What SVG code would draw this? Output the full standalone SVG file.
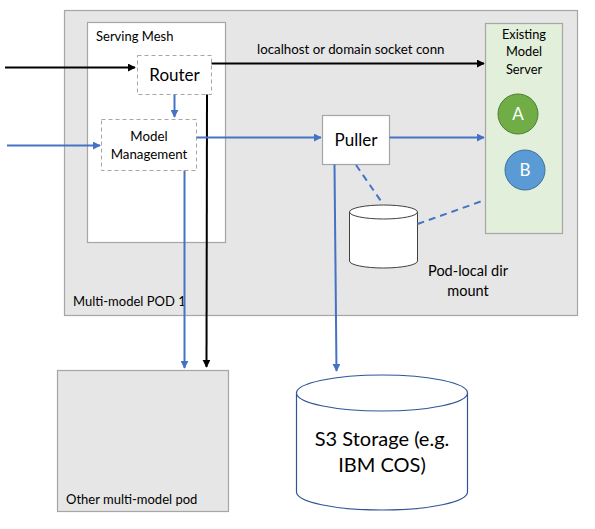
<svg xmlns="http://www.w3.org/2000/svg" width="595" height="529" viewBox="0 0 595 529">
<defs>
<style>
text{font-family:Lato,"Liberation Sans",sans-serif;fill:#000}
.box{fill:#e6e6e6;stroke:#a6a6a6;stroke-width:1.2}
.dash{fill:#fff;stroke:#a6a6a6;stroke-width:1;stroke-dasharray:4 3}
.blue{stroke:#4472c4;stroke-width:2;fill:none}
.blk{stroke:#000;stroke-width:2;fill:none}
.bd{stroke:#4472c4;stroke-width:2;fill:none;stroke-dasharray:7 5}
</style>
<marker id="ab" viewBox="0 0 10 10" refX="9" refY="5" markerWidth="4" markerHeight="4" orient="auto" markerUnits="strokeWidth"><path d="M0,0L10,5L0,10z" fill="#4472c4"/></marker>
<marker id="ak" viewBox="0 0 10 10" refX="9" refY="5" markerWidth="4" markerHeight="4" orient="auto" markerUnits="strokeWidth"><path d="M0,0L10,5L0,10z" fill="#000"/></marker>
</defs>
<rect width="595" height="529" fill="#fff"/>
<g id="pod1">
<rect class="box" x="64.5" y="10.5" width="513" height="305"/>
<text x="73" y="306" font-size="13">Multi-model POD 1</text>
</g>
<g id="serving-mesh">
<rect x="87.5" y="22.5" width="138" height="220" fill="#fff" stroke="#a6a6a6" stroke-width="1.2"/>
<text x="96" y="41" font-size="13">Serving Mesh</text>
</g>
<g id="router">
<rect class="dash" x="137.5" y="55.5" width="74" height="39"/>
<text x="174.5" y="81" font-size="17" text-anchor="middle">Router</text>
</g>
<g id="model-management">
<rect class="dash" x="101.5" y="119.5" width="95" height="51"/>
<text x="149" y="141" font-size="13.3" text-anchor="middle">Model</text>
<text x="149" y="159" font-size="13.3" text-anchor="middle">Management</text>
</g>
<g id="puller">
<rect x="322.5" y="115.5" width="67" height="49" fill="#fff" stroke="#a6a6a6" stroke-width="1.2"/>
<text x="356" y="146" font-size="17" text-anchor="middle">Puller</text>
</g>
<g id="model-server">
<rect x="485.5" y="23.5" width="77" height="210" fill="#e2efda" stroke="#a6a6a6" stroke-width="1.2"/>
<text x="524" y="39" font-size="12.8" text-anchor="middle">Existing</text>
<text x="524" y="56" font-size="12.8" text-anchor="middle">Model</text>
<text x="524" y="74" font-size="12.8" text-anchor="middle">Server</text>
</g>
<g id="model-a">
<circle cx="518" cy="114" r="20" fill="#70ad47" stroke="#507e32" stroke-width="1"/>
<text x="518" y="120" font-size="17" text-anchor="middle" style="fill:#fff">A</text>
</g>
<g id="model-b">
<circle cx="525" cy="170" r="20" fill="#5b9bd5" stroke="#41719c" stroke-width="1"/>
<text x="525" y="176" font-size="17" text-anchor="middle" style="fill:#fff">B</text>
</g>
<g id="pod-local-dir">
<path d="M349.5,212 V261 A34,7 0 0 0 417.5,261 V212" fill="#fff" stroke="#404040" stroke-width="1"/>
<ellipse cx="383.5" cy="212" rx="34" ry="7" fill="#fff" stroke="#404040" stroke-width="1"/>
<text x="468" y="276" font-size="14.5" text-anchor="middle">Pod-local dir</text>
<text x="468" y="296" font-size="14.5" text-anchor="middle">mount</text>
</g>
<g id="other-pod">
<rect class="box" x="57.5" y="370.5" width="171" height="141"/>
<text x="66" y="504" font-size="13">Other multi-model pod</text>
</g>
<g id="s3">
<path d="M296.5,393 V492 A85.5,18 0 0 0 467.5,492 V393" fill="#fff" stroke="#2f5597" stroke-width="1.2"/>
<ellipse cx="382" cy="393" rx="85.5" ry="18" fill="#fff" stroke="#2f5597" stroke-width="1.2"/>
<text x="382" y="446" font-size="20" text-anchor="middle">S3 Storage (e.g.</text>
<text x="382" y="472" font-size="20" text-anchor="middle">IBM COS)</text>
</g>
<g id="connectors">
<path class="blk" d="M5,67.5 H135" marker-end="url(#ak)"/>
<path class="blk" d="M211.5,63.5 H484" marker-end="url(#ak)"/>
<text x="257" y="54" font-size="13.3">localhost or domain socket conn</text>
<path class="blk" d="M207,94.5 L206.5,367" marker-end="url(#ak)"/>
<path class="blue" d="M174.5,94.5 V117" marker-end="url(#ab)"/>
<path class="blue" d="M7,145.5 H100" marker-end="url(#ab)"/>
<path class="blue" d="M196.5,137.5 H321" marker-end="url(#ab)"/>
<path class="blue" d="M389.5,137.5 H484" marker-end="url(#ab)"/>
<path class="blue" d="M184.5,170.5 V368" marker-end="url(#ab)"/>
<path class="blue" d="M334.5,164.5 L336.5,371" marker-end="url(#ab)"/>
<path class="bd" d="M356,165 L383,204"/>
<path class="bd" d="M417.5,224 L485,200"/>
</g>
</svg>
